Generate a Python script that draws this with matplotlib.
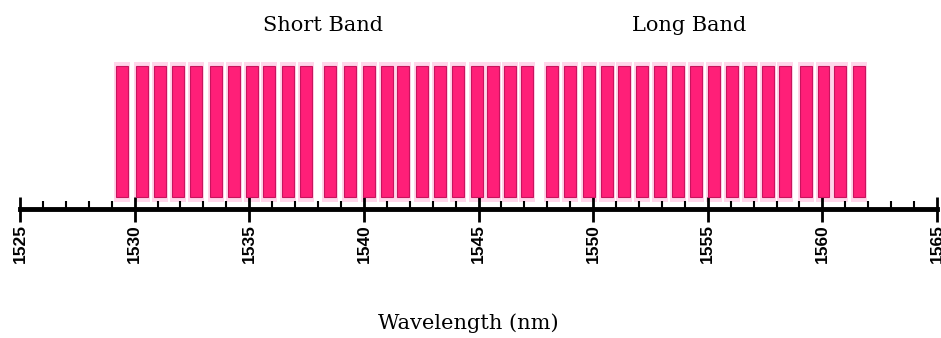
import matplotlib.pyplot as plt
from matplotlib.ticker import MultipleLocator

# Channel centre wavelengths (nm), ~0.8 nm grid
short_band = [1529.45, 1530.32, 1531.11, 1531.89, 1532.68, 1533.55, 1534.33,
              1535.12, 1535.86, 1536.69, 1537.47, 1538.52, 1539.39, 1540.22,
              1541.00, 1541.70, 1542.53, 1543.32, 1544.10, 1544.93, 1545.63,
              1546.37, 1547.11]
long_band = [1548.20, 1548.99, 1549.81, 1550.60, 1551.34, 1552.13, 1552.91,
             1553.70, 1554.48, 1555.27, 1556.05, 1556.84, 1557.62, 1558.36,
             1559.28, 1560.06, 1560.76, 1561.59]
major_ticks = [1525, 1530, 1535, 1540, 1545, 1550, 1555, 1560, 1565]

fig = plt.figure(figsize=(9.41, 3.38), dpi=100)
ax = fig.add_axes([20 / 941, 129 / 338, 917 / 941, 147 / 338])

channels = short_band + long_band
# pale channel slots behind each carrier
ax.bar(channels, [0.97] * len(channels), bottom=0.05, width=0.7,
       color='#ffd6ea', edgecolor='none', zorder=1)
ax.bar(channels, [0.89] * len(channels), bottom=0.085, width=0.5,
       color='#ff1f78', edgecolor='#c8145e', linewidth=0.8, zorder=2)

ax.set_xlim(1525, 1565)
ax.set_ylim(0, 1)
for s in ['left', 'right', 'top']:
    ax.spines[s].set_visible(False)
ax.spines['bottom'].set_linewidth(3.5)
ax.spines['bottom'].set_clip_on(False)
ax.set_yticks([])

ax.set_xticks(major_ticks)
ax.set_xticklabels([str(t) for t in major_ticks], rotation=90,
                   fontsize=12.5, fontweight='bold', family='Liberation Sans')
ax.xaxis.set_minor_locator(MultipleLocator(1))
ax.tick_params(axis='x', which='major', direction='inout', length=18,
               width=2, pad=2)
ax.tick_params(axis='x', which='minor', direction='in', length=6, width=1.5)

ax.text(1538.2, 1.25, 'Short Band', ha='center', va='center',
        fontsize=15, family='DejaVu Serif')
ax.text(1554.2, 1.25, 'Long Band', ha='center', va='center',
        fontsize=15, family='DejaVu Serif')
fig.text(468 / 941, 1 - 323 / 338, 'Wavelength (nm)', ha='center',
         va='center', fontsize=15, family='DejaVu Serif')

fig.savefig('out.png', dpi=100)
